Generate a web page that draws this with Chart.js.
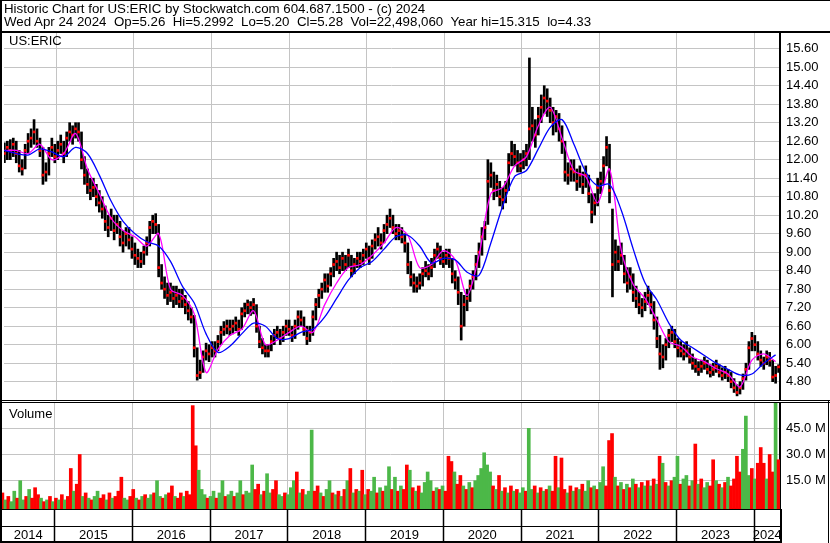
<!DOCTYPE html>
<html><head><meta charset="utf-8">
<script src="https://cdn.jsdelivr.net/npm/chart.js@4.4.1/dist/chart.umd.min.js"></script>
<style>
html,body{margin:0;padding:0;background:#fff;}
#wrap{position:relative;width:830px;height:543px;overflow:hidden;background:#fff;font-family:Arial,"Liberation Sans",sans-serif;}
canvas{position:absolute;left:0;top:0;}
.t{position:absolute;font-size:13px;line-height:13px;color:#000;white-space:pre;}
.h{font-size:13.3px;}
</style></head><body>
<div id="wrap">
<canvas id="cv" width="830" height="543"></canvas>
<canvas id="pc" width="830" height="543"></canvas>
<div class="t h" style="left:4px;top:2px">Historic Chart for US:ERIC by Stockwatch.com 604.687.1500 - (c) 2024</div>
<div class="t h" style="left:4px;top:15px">Wed Apr 24 2024  Op=5.26  Hi=5.2992  Lo=5.20  Cl=5.28  Vol=22,498,060  Year hi=15.315  lo=4.33</div>
<div class="t" style="left:9px;top:34px">US:ERIC</div>
<div class="t" style="left:9px;top:407px">Volume</div>
</div>
<script>
// ---- data (bi-weekly bars, Apr 2014 .. Apr 24 2024) ----
const START = 2014.33, STEP = 0.03824;   // decimal years of first bar, bar spacing
const xMin = 2014.325, xMax = 2024.329;

const closes = [
12.2,12.4,12.3,12.5,12.2,11.8,11.7,12.3,12.6,12.7,
12.9,12.6,12.3,11.5,11.6,12.2,12.4,12.1,12.3,12.5,
12.2,12.7,12.9,12.8,13.0,12.9,12.0,11.5,11.2,11.0,
11.1,10.8,10.6,10.4,10.0,9.8,10.1,9.7,9.9,9.5,
9.3,9.6,9.4,9.1,8.9,8.8,8.7,9.0,9.3,9.8,
10.0,9.9,8.5,8.0,7.8,7.6,7.7,7.5,7.6,7.4,
7.5,7.3,7.1,6.9,5.9,5.0,5.1,5.6,5.8,5.7,
5.9,5.8,6.1,6.4,6.5,6.6,6.5,6.6,6.7,6.5,
7.0,7.1,7.3,7.2,7.3,6.6,6.1,5.9,5.8,5.8,
6.1,6.3,6.4,6.2,6.4,6.6,6.5,6.3,6.6,6.9,
6.8,6.5,6.2,6.4,6.9,7.3,7.6,7.8,8.1,7.9,
8.3,8.6,8.7,8.5,8.8,8.6,8.9,8.4,8.6,8.8,
8.7,8.9,9.1,8.8,9.2,9.4,9.5,9.3,9.7,9.9,
10.1,9.8,9.6,9.7,9.5,9.3,8.6,8.2,8.0,7.9,
8.0,8.3,8.4,8.3,8.5,8.9,9.1,8.8,8.7,8.9,
8.8,8.3,8.1,7.7,6.6,7.3,7.5,7.9,8.2,8.6,
9.0,9.5,9.8,11.3,11.5,11.0,11.2,10.8,10.7,11.0,
11.9,12.2,12.1,11.9,11.8,12.0,12.2,13.0,13.1,12.8,
13.4,13.7,14.0,13.9,13.6,13.2,13.4,13.0,12.6,11.6,
11.5,11.7,11.6,11.3,11.5,11.2,11.5,10.9,10.3,10.6,
11.1,11.3,11.8,12.4,11.0,8.6,9.0,8.7,8.9,8.3,
8.0,8.2,7.7,7.5,7.3,7.2,7.4,7.6,7.3,6.8,
6.2,5.7,5.6,6.0,6.3,6.4,6.1,5.9,5.8,5.7,
5.8,5.6,5.4,5.3,5.2,5.3,5.4,5.2,5.1,5.2,
5.3,5.1,5.0,5.1,5.0,4.8,4.6,4.45,4.6,4.9,
5.2,5.9,6.2,6.0,5.7,5.5,5.4,5.6,5.5,4.95,
5.0,5.28];

const highs = [
12.55,12.6,12.65,12.7,12.6,12.3,12.0,12.5,12.85,13.0,
13.3,13.0,12.7,12.4,11.9,12.4,12.7,12.5,12.6,12.8,
12.6,12.9,13.2,13.1,13.2,13.2,12.9,12.1,11.7,11.4,
11.4,11.2,11.0,10.8,10.5,10.2,10.4,10.2,10.2,10.0,
9.7,9.8,9.8,9.5,9.3,9.1,9.0,9.2,9.5,10.0,
10.2,10.25,9.9,8.6,8.2,8.0,8.0,7.9,7.9,7.8,
7.8,7.6,7.4,7.2,6.95,5.9,5.5,5.8,6.05,6.0,
6.1,6.1,6.3,6.6,6.75,6.8,6.8,6.8,6.9,6.8,
7.2,7.35,7.45,7.4,7.5,7.3,6.6,6.2,6.0,6.0,
6.3,6.5,6.6,6.5,6.6,6.8,6.8,6.6,6.8,7.1,
7.1,6.9,6.6,6.6,7.1,7.5,7.8,8.0,8.3,8.3,
8.5,8.8,9.0,8.9,9.0,8.9,9.1,8.9,8.8,9.0,
9.0,9.1,9.3,9.2,9.4,9.6,9.8,9.6,9.9,10.2,
10.4,10.2,9.9,9.9,9.8,9.6,9.3,8.7,8.3,8.2,
8.3,8.5,8.7,8.6,8.8,9.1,9.3,9.2,9.0,9.1,
9.1,8.8,8.4,8.2,7.7,7.6,7.8,8.1,8.4,8.9,
9.3,9.8,10.0,12.0,11.9,11.6,11.5,11.3,11.1,11.3,
12.2,12.6,12.5,12.3,12.2,12.3,12.5,15.3,13.7,13.3,
13.7,14.1,14.4,14.3,14.0,13.7,13.6,13.5,13.1,12.6,
11.9,12.0,12.0,11.7,11.8,11.6,11.8,11.5,10.9,10.9,
11.4,11.6,12.1,12.75,12.5,10.4,9.4,9.2,9.3,8.9,
8.5,8.5,8.3,7.9,7.7,7.5,7.7,7.9,7.7,7.4,
6.9,6.3,6.0,6.2,6.5,6.6,6.5,6.2,6.1,6.0,
6.1,5.9,5.7,5.55,5.45,5.5,5.6,5.5,5.35,5.4,
5.5,5.35,5.25,5.3,5.2,5.1,4.9,4.7,4.8,5.05,
5.4,6.1,6.4,6.3,6.1,5.8,5.6,5.8,5.75,5.5,
5.3,5.35];

const lows = [
11.9,12.0,12.0,12.1,11.9,11.6,11.5,11.7,12.2,12.4,
12.5,12.4,12.1,11.2,11.3,11.5,12.1,11.9,12.0,12.2,
11.9,12.1,12.6,12.5,12.7,12.6,11.7,11.2,10.9,10.7,
10.8,10.5,10.3,10.1,9.7,9.5,9.7,9.4,9.6,9.2,
9.0,9.2,9.1,8.8,8.6,8.5,8.5,8.6,8.9,9.2,
9.6,9.6,8.2,7.8,7.5,7.3,7.4,7.2,7.3,7.2,
7.2,7.0,6.8,6.7,5.6,4.85,4.9,5.1,5.5,5.45,
5.6,5.6,5.8,6.0,6.3,6.35,6.3,6.35,6.45,6.3,
6.5,6.9,7.0,6.95,7.0,6.4,5.9,5.7,5.6,5.6,
5.8,6.0,6.2,6.0,6.1,6.3,6.3,6.1,6.2,6.5,
6.6,6.3,6.0,6.1,6.3,6.8,7.2,7.5,7.7,7.7,
7.9,8.2,8.4,8.3,8.4,8.4,8.5,8.2,8.3,8.5,
8.5,8.6,8.8,8.6,8.8,9.1,9.2,9.1,9.3,9.6,
9.8,9.6,9.4,9.4,9.3,9.0,8.3,7.9,7.7,7.7,
7.8,7.9,8.2,8.1,8.2,8.5,8.8,8.6,8.5,8.6,
8.5,8.0,7.8,7.3,6.15,6.6,7.1,7.4,7.8,8.1,
8.5,8.9,9.4,9.9,11.1,10.7,10.8,10.5,10.4,10.6,
11.0,11.8,11.8,11.6,11.6,11.7,11.8,12.0,12.6,12.4,
12.8,13.2,13.5,13.4,13.2,12.8,12.9,12.6,12.2,11.3,
11.2,11.3,11.3,11.0,11.1,10.9,11.1,10.6,9.95,10.2,
10.5,10.9,11.2,11.8,10.6,7.55,8.4,8.4,8.6,8.0,
7.7,7.8,7.4,7.2,7.0,6.9,7.1,7.3,7.0,6.5,
5.9,5.2,5.25,5.5,5.9,6.1,5.9,5.6,5.6,5.5,
5.6,5.4,5.2,5.1,5.0,5.1,5.2,5.05,4.95,5.0,
5.1,4.95,4.85,4.9,4.8,4.6,4.45,4.34,4.4,4.55,
4.85,5.2,5.8,5.8,5.5,5.3,5.2,5.35,5.3,4.8,
4.75,5.1];

// moving averages, one value every 4 bars
const maFast = [
12.3,12.3,12.2,12.5,12.0,12.2,12.85,11.7,10.9,10.1,
9.7,9.5,9.2,9.6,7.8,7.6,7.0,5.1,5.85,6.3,
6.5,7.1,6.0,6.15,6.4,6.6,6.4,7.3,8.0,8.5,
8.6,8.9,9.3,9.8,9.55,8.5,8.6,9.05,8.75,7.6,
8.9,10.9,11.1,11.8,12.1,13.1,13.7,12.7,11.65,11.45,
10.6,11.7,9.05,7.95,7.5,6.8,6.1,5.95,5.6,5.45,
5.22,5.05,4.63,5.5,5.7,5.45];
const maSlow = [
12.3,12.2,12.15,12.35,12.25,12.1,12.4,12.2,11.5,10.65,
10.0,9.6,9.34,9.2,8.7,7.9,7.35,6.35,5.75,5.95,
6.35,6.7,6.6,6.2,6.2,6.4,6.5,6.9,7.5,8.1,
8.5,8.7,9.1,9.5,9.55,9.2,8.65,8.8,8.75,8.35,
8.25,9.3,10.5,11.45,11.65,12.35,13.05,13.3,12.5,11.6,
11.15,11.2,10.35,9.1,8.0,7.45,6.7,6.15,5.9,5.65,
5.4,5.2,5.02,5.05,5.4,5.67];

// volume in millions, and direction (g = up, r = down)
const volumes = [
8,4,6,3,9,5,15,4,6,10,
5,11,7,5,3,4,6,3,5,4,
7,4,6,22,9,13,30,6,8,5,
4,6,9,5,7,4,8,5,6,9,
17,5,4,6,10,5,4,6,7,5,
7,8,15,6,5,7,8,12,6,5,
8,6,9,7,58,35,21,10,7,5,
6,9,5,8,15,6,7,9,6,8,
15,7,9,8,24,10,13,7,9,19,
8,10,15,7,6,8,7,11,15,20,
8,10,7,9,44,9,12,8,6,10,
15,8,7,9,6,10,15,22,8,10,
9,21,7,10,9,17,8,11,9,12,
23,10,17,9,12,10,24,21,11,9,
12,8,14,20,15,9,11,10,12,9,
29,26,20,13,18,12,10,14,11,15,
18,22,31,24,20,12,10,18,9,11,
8,12,9,10,8,11,9,45,10,12,
8,11,9,10,12,9,29,11,28,10,
8,12,9,11,10,13,9,15,11,12,
10,14,23,12,38,42,17,12,14,10,
13,11,16,13,11,14,12,15,12,16,
13,29,25,14,12,15,17,29,13,16,
18,12,15,36,13,16,11,14,12,27,
15,13,11,14,17,12,16,29,20,33,
52,18,22,16,25,34,25,16,30,20,
60,27];
const volumeDirection =
 "rgrggrggrg" + "rrrgrgrgrg" + "rgrrgrrgrg" + "rggrrgrgrr" + "rggrrgrgrg" +
 "grggrgrrgr" + "rgrrrrgggr" + "ggrggrggrg" + "grgggrrgrg" + "grrggrgggr" +
 "grgggrrgrg" + "grgrgrgrgr" + "grgrggrgrg" + "grgrgrrgrg" + "rggggrgrgr" +
 "rrgrrgrgrg" + "gggggrgrgr" + "grgrggrggr" + "grgrgrrgrr" + "grgrgrggrg" +
 "rggrrrgrgr" + "grgrgrgrgr" + "grgrgrggrg" + "grgrgrggrr" + "grgrgrrrrg" +
 "ggrgrrrgrr" + "gr";

const priceTicks = [4.8,5.4,6.0,6.6,7.2,7.8,8.4,9.0,9.6,10.2,10.8,11.4,12.0,12.6,13.2,13.8,14.4,15.0,15.6];
const volumeTicks = [15,30,45];
const yearLabels = ['2014','2015','2016','2017','2018','2019','2020','2021','2022','2023','2024'];
const yearBounds = [2015,2016,2017,2018,2019,2020,2021,2022,2023,2024];

// ---- helpers ----
const tAt = i => START + i * STEP;
const GREEN = '#4cb848', RED = '#ff0000', GRID = '#c4c4c4';
const FONT = {family: 'Arial, "Liberation Sans", sans-serif', size: 13};

// combined tick list for the year row: boundaries (lines) and mid-points (labels)
const yearRow = [];
yearLabels.forEach((lab, k) => {
  const y0 = Math.max(2014 + k, xMin), y1 = Math.min(2015 + k, xMax);
  yearRow.push({value: (y0 + y1) / 2, lab: lab});
  if (k < yearBounds.length) yearRow.push({value: yearBounds[k], lab: ''});
});

const framePrice = {
  id: 'framePrice',
  afterDraw(chart) {
    const c = chart.ctx; c.save(); c.fillStyle = '#000';
    c.fillRect(0, 0, 830, 1);
    c.fillRect(0, 0, 2, 543);
    c.fillRect(0, 31, 830, 2);
    c.fillRect(0, 400, 830, 1);
    c.fillRect(0, 402, 830, 1);
    c.restore();
  }
};
const frameVol = {
  id: 'frameVol',
  afterDraw(chart) {
    const c = chart.ctx; c.save(); c.fillStyle = '#000';
    c.fillRect(0, 526, 782, 1);
    c.fillRect(0, 541, 782, 2);
    c.fillRect(780, 509, 2, 34);
    c.fillRect(828, 400, 1, 143);
    c.restore();
  }
};

// ---- price chart ----
new Chart(document.getElementById('pc'), {
  type: 'bar',
  data: {
    datasets: [
      {type: 'bar', data: highs.map((h, i) => ({x: tAt(i), y: [lows[i], h]})),
       backgroundColor: '#000', barThickness: 2, grouped: false, order: 4},
      {type: 'scatter', data: closes.map((c, i) => ({x: tAt(i), y: c})),
       pointStyle: 'rect', pointRadius: 1.9, backgroundColor: RED, borderWidth: 0, order: 3},
      {type: 'line', data: maFast.map((v, j) => ({x: tAt(j * 4), y: v})),
       borderColor: '#ff00ff', borderWidth: 1.3, pointRadius: 0, tension: 0.3, order: 2},
      {type: 'line', data: maSlow.map((v, j) => ({x: tAt(j * 4), y: v})),
       borderColor: '#0000ff', borderWidth: 1.3, pointRadius: 0, tension: 0.3, order: 1}
    ]
  },
  options: {
    responsive: false, animation: false, devicePixelRatio: 1,
    layout: {padding: {left: 2, right: 0, top: 33, bottom: 143}},
    plugins: {legend: {display: false}, tooltip: {enabled: false}},
    scales: {
      x: {type: 'linear', min: xMin, max: xMax, offset: false,
          afterBuildTicks: s => { s.ticks = yearBounds.map(v => ({value: v})); },
          ticks: {display: false}, grid: {color: GRID, drawTicks: false, offset: false},
          border: {display: false}, afterFit: s => { s.height = 0; }},
      y: {position: 'right', min: 4.206, max: 16.109,
          afterBuildTicks: s => { s.ticks = priceTicks.map(v => ({value: v})); },
          ticks: {callback: v => Number(v).toFixed(2), color: '#000', font: FONT, padding: 6},
          grid: {color: GRID, drawTicks: false},
          border: {color: '#000', width: 2},
          afterFit: s => { s.width = 50; }}
    }
  },
  plugins: [framePrice]
});

// ---- volume chart ----
new Chart(document.getElementById('cv'), {
  type: 'bar',
  data: {
    datasets: [{
      data: volumes.map((v, i) => ({x: tAt(i), y: v})),
      backgroundColor: volumes.map((v, i) => volumeDirection[i] === 'g' ? GREEN : RED),
      barThickness: 3, grouped: false, base: -1.2
    }]
  },
  options: {
    responsive: false, animation: false, devicePixelRatio: 1,
    layout: {padding: {left: 2, right: 0, top: 403, bottom: 2}},
    plugins: {legend: {display: false}, tooltip: {enabled: false}},
    scales: {
      x: {type: 'linear', min: xMin, max: xMax, offset: false,
          afterBuildTicks: s => { s.ticks = yearRow.map(t => ({value: t.value})); },
          ticks: {callback: (v, idx) => yearRow[idx] ? yearRow[idx].lab : '',
                  color: '#000', font: FONT, padding: -13, maxRotation: 0, autoSkip: false},
          grid: {offset: false,
                 color: ctx => (yearRow[ctx.index] && yearRow[ctx.index].lab === '') ? GRID : 'rgba(0,0,0,0)',
                 tickColor: ctx => (yearRow[ctx.index] && yearRow[ctx.index].lab === '') ? '#000' : 'rgba(0,0,0,0)',
                 tickLength: 32, tickWidth: 1.5},
          border: {color: '#000', width: 2},
          afterFit: s => { s.height = 32; }},
      y: {position: 'right', min: -1.2, max: 59.5,
          afterBuildTicks: s => { s.ticks = volumeTicks.map(v => ({value: v})); },
          ticks: {callback: v => Number(v).toFixed(1) + ' M', color: '#000', font: FONT, padding: 6},
          grid: {color: GRID, drawTicks: false},
          border: {color: '#000', width: 2},
          afterFit: s => { s.width = 50; }}
    }
  },
  plugins: [frameVol]
});
</script>
</body></html>
